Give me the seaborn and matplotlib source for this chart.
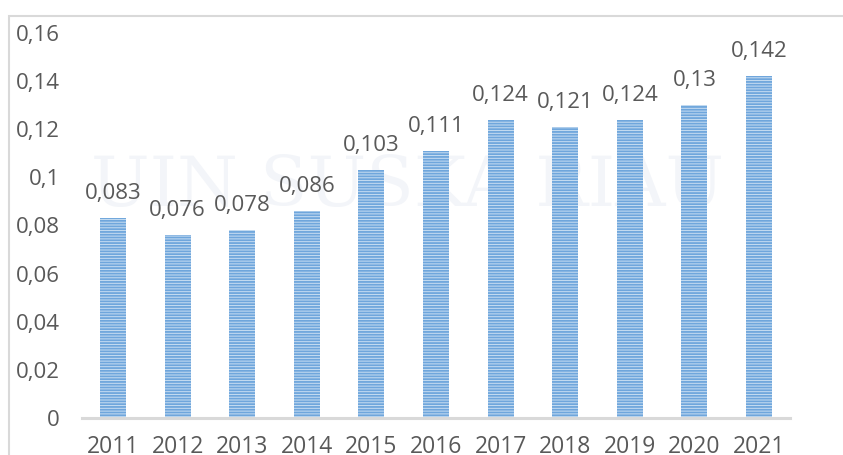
import matplotlib
matplotlib.use("Agg")
import matplotlib.pyplot as plt
import seaborn as sns
import pandas as pd
from matplotlib.patches import Rectangle

# data
years = ["2011", "2012", "2013", "2014", "2015", "2016", "2017", "2018", "2019", "2020", "2021"]
values = [0.083, 0.076, 0.078, 0.086, 0.103, 0.111, 0.124, 0.121, 0.124, 0.13, 0.142]
value_labels = ["0,083", "0,076", "0,078", "0,086", "0,103", "0,111", "0,124", "0,121", "0,124", "0,13", "0,142"]
y_ticks = [0, 0.02, 0.04, 0.06, 0.08, 0.1, 0.12, 0.14, 0.16]
y_tick_labels = ["0", "0,02", "0,04", "0,06", "0,08", "0,1", "0,12", "0,14", "0,16"]

sns.set_style("white")
plt.rcParams['font.family'] = ['Open Sans', 'DejaVu Sans']
plt.rcParams['hatch.linewidth'] = 1.3
plt.rcParams['hatch.color'] = '#5b9bd5'

df = pd.DataFrame({"year": years, "value": values})

fig = plt.figure(figsize=(8.43, 4.55), dpi=100)
ax = fig.add_axes([82 / 843, 1 - 418 / 455, (790 - 82) / 843, (418 - 33) / 455])

# faint watermark behind the bars
ax.text(0.46, 0.6, "UIN SUSKA RIAU", transform=ax.transAxes, fontsize=50,
        family="DejaVu Serif", color="#f3f5f9", ha="center", va="center", zorder=0)

sns.barplot(data=df, x="year", y="value", ax=ax, width=0.4,
            color="#c9def2", edgecolor="#c9def2", linewidth=0, saturation=1)
for bar in ax.patches:
    bar.set_hatch("------")
    bar.set_edgecolor("#6fa6dc")
    bar.set_linewidth(0)
    bar.set_zorder(2)

ax.bar_label(ax.containers[0], labels=value_labels, padding=10,
             fontsize=16, color="#595959")

ax.set_ylim(0, 0.16)
ax.set_xlim(-0.48, 10.48)
ax.set_yticks(y_ticks)
ax.set_yticklabels(y_tick_labels)
ax.set_xlabel("")
ax.set_ylabel("")
ax.tick_params(axis="y", length=0, pad=16, labelsize=16, labelcolor="#595959")
ax.tick_params(axis="x", length=0, pad=12, labelsize=16.5, labelcolor="#595959")
for s in ["top", "right", "left"]:
    ax.spines[s].set_visible(False)
ax.spines["bottom"].set_color("#d9d9d9")
ax.spines["bottom"].set_linewidth(2.2)
ax.patch.set_alpha(0)

# chart area border, cut off by the image edges
fig.patches.append(Rectangle((9 / 843, -0.1), 1.2, 1.1 - 16 / 455,
                             transform=fig.transFigure, fill=False,
                             edgecolor="#d9d9d9", linewidth=1.5))

fig.savefig("out.png", dpi=100)
